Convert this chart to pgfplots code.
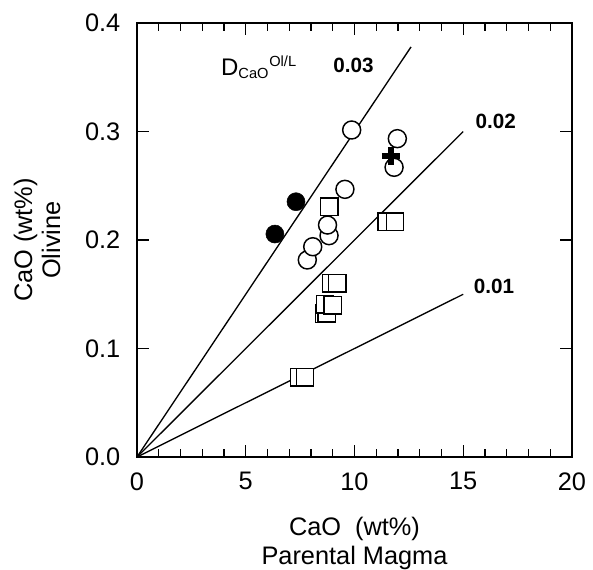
\documentclass[border=0pt]{standalone}
\usepackage{fontspec}
\setmainfont{Liberation Sans}
\usepackage{pgfplots}
\pgfplotsset{compat=1.18}
\begin{document}
\begin{tikzpicture}
\useasboundingbox (-102.75pt,-84pt) rectangle (342pt,342.75pt);
\begin{axis}[
  at={(0,0)}, anchor=south west,
  width=326.25pt, height=325.5pt, scale only axis,
  xmin=0, xmax=20, ymin=0, ymax=0.4,
  xtick={0,5,10,15,20}, minor x tick num=4,
  ytick={0,0.1,0.2,0.3,0.4},
  tick align=inside,
  major tick length=9pt, minor tick length=6pt,
  axis line style={line width=1.4pt},
  every tick/.style={black, line width=1pt},
  /pgf/number format/assume math mode=true,
  ticklabel style={font=\fontsize{19}{22}\selectfont},
  yticklabel style={/pgf/number format/fixed, /pgf/number format/fixed zerofill, /pgf/number format/precision=1, xshift=-9pt},
  xticklabel style={yshift=-8pt},
  xlabel={CaO\ \ (wt\%)\\Parental Magma},
  ylabel={CaO (wt\%)\\Olivine},
  xlabel style={at={(axis description cs:0.5,0)}, anchor=north, align=center, font=\fontsize{19}{21.5}\selectfont, yshift=-41.5pt},
  ylabel style={at={(axis description cs:0,0.5)}, anchor=south, align=center, font=\fontsize{19}{21}\selectfont, yshift=54pt},
  clip=false,
]
% reference lines
\addplot[black, line width=1pt] coordinates {(0,0) (12.6,0.378)};
\addplot[black, line width=1pt] coordinates {(0,0) (15,0.30)};
\addplot[black, line width=1pt] coordinates {(0,0) (15,0.15)};
% squares (doubled)
\addplot[only marks, mark=square*, mark size=6.5pt, mark options={fill=white, draw=black, line width=1.1pt}] coordinates {
 (7.46,0.0734) (7.72,0.0734)
 (8.60,0.132) (8.72,0.1324)
 (8.64,0.1407) (9.00,0.140)
 (8.92,0.160) (9.21,0.160)
 (8.84,0.2307)
 (11.48,0.2169) (11.86,0.2169)
};
% open circles
\addplot[only marks, mark=*, mark size=6.75pt, mark options={fill=white, draw=black, line width=1.1pt}] coordinates {
 (7.83,0.1816) (8.08,0.1938)
 (8.83,0.204) (8.76,0.2138)
 (9.56,0.2467)
 (9.87,0.3014)
 (11.82,0.267)
 (11.97,0.2934)
};
% filled circles
\addplot[only marks, mark=*, mark size=6.75pt, mark options={fill=black, draw=black}] coordinates {
 (6.34,0.2055) (7.31,0.2353)
};
% cross
\addplot[only marks, mark=+, mark size=6.8pt, mark options={draw=black, line width=5pt}] coordinates {
 (11.68,0.2774)
};
\node[font=\fontsize{15.5}{17}\selectfont\bfseries] at (axis cs:9.95,0.361) {0.03};
\node[font=\fontsize{15.5}{17}\selectfont\bfseries] at (axis cs:16.49,0.309) {0.02};
\node[font=\fontsize{15.5}{17}\selectfont\bfseries] at (axis cs:16.41,0.1576) {0.01};
\node[font=\fontsize{18}{20}\selectfont] at (axis cs:5.61,0.359) {D\textsubscript{\fontsize{11}{12}\selectfont CaO}\textsuperscript{\fontsize{11}{12}\selectfont Ol/L}};
\end{axis}
\end{tikzpicture}
\end{document}
